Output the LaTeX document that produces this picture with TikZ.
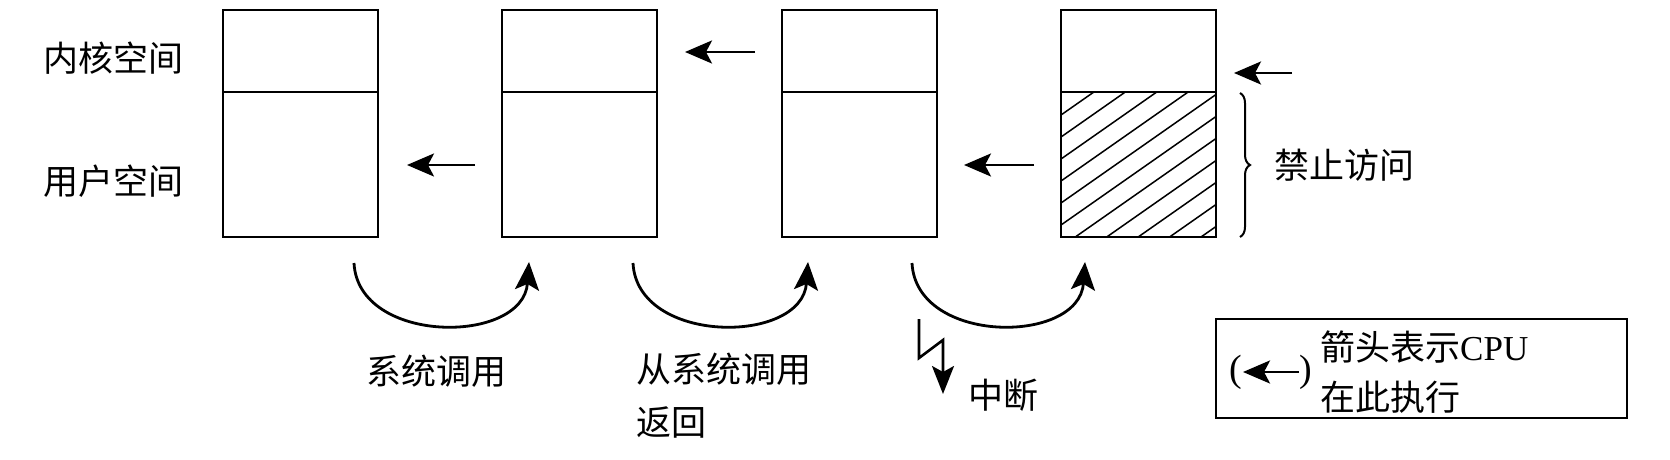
\documentclass[tikz,border=0pt]{standalone}
\usepackage{fontspec}
\setmainfont{Liberation Serif}
\newfontfamily\cjk{Noto Sans CJK SC}
\usetikzlibrary{arrows.meta,decorations.pathreplacing}
\begin{document}
\begin{tikzpicture}[x=1pt,y=-1pt,
  box/.style={draw,line width=1.8pt,minimum width=155pt,inner sep=0pt,outer sep=0pt},
  kbox/.style={box,minimum height=82pt},
  ubox/.style={box,minimum height=145pt},
  lbl/.style={font=\fontsize{35pt}{53pt}\selectfont\cjk,inner sep=0pt,anchor=west},
  cpu/.style={line width=2.8pt,-{Stealth[length=27pt,width=23pt,inset=6pt]}},
  jump/.style={line width=2.8pt,-{Stealth[length=28pt,width=24pt,inset=6pt]}},
  hatch/.style={line width=1.5pt},
]
\useasboundingbox (0,0) rectangle (1670,460);
% boxes
\foreach \i/\x in {1/223,2/502,3/782,4/1061}{
  \node[kbox,anchor=north west] (k\i) at (\x,10) {};
  \node[ubox,anchor=north west] (u\i) at (\x,92) {};
}
% hatching of the last user area
\begin{scope}
  \clip (u4.north west) rectangle (u4.south east);
  \foreach \c in {115,137,...,345}{
    \draw[hatch] (1061,\c) -- ++(250,-175);
  }
\end{scope}
\draw[line width=1.8pt] (u4.north west) rectangle (u4.south east);
% side labels
\node[lbl] (kl) at (43,58) {内核空间};
\node[lbl] (ul) at (43,181) {用户空间};
% CPU position arrows
\coordinate (a1s) at (475,165); \coordinate (a1e) at (407,165);
\coordinate (a2s) at (755,52);  \coordinate (a2e) at (685,52);
\coordinate (a3s) at (1034,165); \coordinate (a3e) at (964,165);
\coordinate (a4s) at (1292,73); \coordinate (a4e) at (1234,73);
\draw[cpu] (a1s) -- (a1e);
\draw[cpu] (a2s) -- (a2e);
\draw[cpu] (a3s) -- (a3e);
\draw[cpu] (a4s) -- (a4e);
% transitions
\foreach \s/\e in {354/529,633/808,912/1085}{
  \draw[jump] (\s,263) .. controls (\s+4,345) and (\e-6,345) .. (\e,262);
}
% interrupt lightning
\coordinate (z1) at (919,319);
\coordinate (z2) at (919,358);
\coordinate (z3) at (943,340);
\coordinate (z4) at (943,394);
\draw[line width=2.6pt,line join=miter,-{Stealth[length=28pt,width=22pt,inset=6pt]}] (z1) -- (z2) -- (z3) -- (z4);
% labels under curves
\node[lbl] (sc) at (366,371) {系统调用};
\node[lbl,align=left,anchor=north west] (rt) at (636,353) {从系统调用\\返回};
\node[lbl] (it) at (968,395) {中断};
% brace
\draw[line width=2pt,decorate,decoration={brace,amplitude=10pt}] (1240,93) -- (1240,237);
\node[lbl] (fb) at (1274,165) {禁止访问};
% legend
\node[draw,line width=1.8pt,minimum width=411pt,minimum height=99pt,anchor=north west,inner sep=0pt] (lg) at (1215,318) {};
\node[font=\fontsize{38pt}{42pt}\selectfont,inner sep=0pt] (lp) at (1236,372) {(};
\node[font=\fontsize{38pt}{42pt}\selectfont,inner sep=0pt] (rp) at (1306,372) {)};
\coordinate (las) at (1299,372); \coordinate (lae) at (1243,372);
\draw[cpu] (las) -- (lae);
\node[lbl,font=\fontsize{35pt}{50pt}\selectfont\cjk,align=left,anchor=west] (lt) at (1320,372) {{\cjk 箭头表示}{\fontspec{Liberation Serif}CPU}\\在此执行};
\end{tikzpicture}
\end{document}
